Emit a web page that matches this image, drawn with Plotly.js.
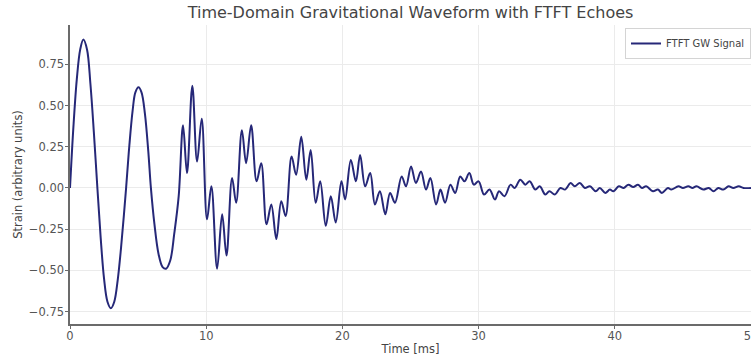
<!DOCTYPE html>
<html>
<head>
<meta charset="utf-8">
<script src="https://cdn.plot.ly/plotly-3.0.1.min.js"></script>
<style>
  html, body { margin: 0; padding: 0; background: #fff; }
  #chart { width: 751px; height: 358px; }
</style>
</head>
<body>
<div id="chart"></div>
<script>
// Time samples (ms)
const timeMs = [
  0.00, 0.25, 0.50, 0.75, 0.98, 1.25, 1.50, 1.75, 2.01,
  2.25, 2.50, 2.75, 3.00, 3.25, 3.50, 3.75, 4.12,
  4.35, 4.60, 4.80, 5.03, 5.25, 5.50, 5.75, 5.94,
  6.20, 6.50, 6.80, 7.05, 7.36, 7.65, 7.98,
  8.30, 8.59, 8.98, 9.33, 9.67, 10.06, 10.38, 10.80, 11.17, 11.49,
  11.90, 12.20, 12.62, 12.93, 13.30, 13.70, 14.04, 14.43, 14.78, 15.15,
  15.51, 15.83, 16.27, 16.60, 16.98, 17.35, 17.67, 18.04, 18.37, 18.78,
  19.15, 19.51, 19.93, 20.20, 20.62, 20.99, 21.30, 21.67, 22.04, 22.39,
  22.75, 23.15, 23.50, 23.86, 24.35, 24.67, 25.04, 25.40, 25.77, 26.14,
  26.46, 26.88, 27.20, 27.54, 27.93, 28.28, 28.65, 28.96, 29.32, 29.65,
  30.00, 30.40, 30.80, 31.20, 31.50, 31.90, 32.35, 32.65, 33.06, 33.43,
  33.75, 34.17, 34.49, 34.90, 35.20, 35.60, 36.00, 36.35, 36.75, 37.06,
  37.43, 37.80, 38.17, 38.60, 38.90, 39.30, 39.64, 39.90, 40.30, 40.65,
  41.00, 41.35, 41.70, 42.00, 42.30, 42.80, 43.16, 43.46, 43.90, 44.15,
  44.67, 45.00, 45.40, 45.70, 46.00, 46.49, 46.90, 47.25, 47.60, 47.97,
  48.35, 48.70, 49.10, 49.45, 50.00
];

// Strain values (arbitrary units)
const strain = [
  0.00, 0.37, 0.66, 0.84, 0.90, 0.84, 0.63, 0.34, 0.00,
  -0.30, -0.55, -0.69, -0.73, -0.69, -0.56, -0.36, 0.00,
  0.25, 0.47, 0.58, 0.61, 0.58, 0.45, 0.22, 0.00,
  -0.22, -0.40, -0.48, -0.49, -0.44, -0.28, -0.05,
  0.38, 0.09, 0.62, 0.16, 0.42, -0.19, 0.01, -0.49, -0.16, -0.41,
  0.06, -0.09, 0.35, 0.15, 0.38, 0.04, 0.15, -0.22, -0.10, -0.31,
  -0.08, -0.17, 0.19, 0.08, 0.31, 0.05, 0.23, -0.09, 0.04, -0.23,
  -0.05, -0.21, 0.04, -0.07, 0.17, 0.04, 0.20, 0.01, 0.09, -0.10,
  -0.02, -0.16, -0.03, -0.09, 0.07, 0.01, 0.13, 0.03, 0.10, -0.01,
  0.06, -0.10, -0.01, -0.09, 0.02, -0.03, 0.07, 0.04, 0.09, 0.02,
  0.04, -0.04, -0.01, -0.07, -0.02, -0.05, 0.02, 0.00, 0.05, 0.02,
  0.04, -0.01, 0.01, -0.04, -0.02, -0.04, 0.00, -0.01, 0.03, 0.01,
  0.03, 0.00, 0.01, -0.02, 0.00, -0.03, -0.01, -0.02, 0.01, 0.00,
  0.02, 0.005, 0.02, 0.00, 0.01, -0.02, -0.01, -0.03, 0.00, -0.01,
  0.01, 0.00, 0.01, 0.00, 0.01, -0.01, 0.00, -0.02, 0.00, -0.01,
  0.01, 0.00, 0.01, 0.00, 0.00
];

const xTickVals = [0, 10, 20, 30, 40, 50];
const xTickText = ["0", "10", "20", "30", "40", "50"];
const yTickVals = [-0.75, -0.5, -0.25, 0, 0.25, 0.5, 0.75];
const yTickText = ["\u22120.75", "\u22120.50", "\u22120.25", "0.00", "0.25", "0.50", "0.75"];

const trace = {
  x: timeMs,
  y: strain,
  type: "scatter",
  mode: "lines",
  name: "FTFT GW Signal",
  line: { color: "#262878", width: 2, shape: "spline", smoothing: 1 }
};

const font = "DejaVu Sans, Liberation Sans, sans-serif";

const layout = {
  width: 751,
  height: 358,
  margin: { l: 70, r: 0, t: 25, b: 34, pad: 0 },
  paper_bgcolor: "#ffffff",
  plot_bgcolor: "#ffffff",
  font: { family: font, color: "#555" },
  title: {
    text: "Time-Domain Gravitational Waveform with FTFT Echoes",
    font: { family: font, size: 16, color: "#444" },
    xref: "paper", x: 0.5, xanchor: "center",
    yref: "container", y: 0.966, yanchor: "middle"
  },
  showlegend: true,
  legend: {
    x: 1, xanchor: "right", y: 0.99, yanchor: "top",
    bgcolor: "#ffffff", bordercolor: "#d4d4d4", borderwidth: 1,
    itemwidth: 30,
    font: { family: font, size: 10, color: "#444" }
  },
  xaxis: {
    range: [0, 50],
    tickvals: xTickVals,
    ticktext: xTickText,
    ticklabeloverflow: "allow",
    showline: true, linecolor: "#6b6b6b", linewidth: 1.6,
    ticks: "outside", ticklen: 3, tickcolor: "#6b6b6b", tickwidth: 1,
    ticklabelstandoff: -2,
    showgrid: true, gridcolor: "#ebebeb", gridwidth: 1,
    zeroline: false,
    tickfont: { family: font, size: 11.5, color: "#555" },
    title: { text: "Time [ms]", font: { family: font, size: 11.5, color: "#444" }, standoff: 2 }
  },
  yaxis: {
    range: [-0.825, 0.988],
    tickvals: yTickVals,
    ticktext: yTickText,
    showline: true, linecolor: "#6b6b6b", linewidth: 1.6,
    ticks: "outside", ticklen: 3, tickcolor: "#6b6b6b", tickwidth: 1,
    ticklabelstandoff: -1,
    showgrid: true, gridcolor: "#ebebeb", gridwidth: 1,
    zeroline: false,
    tickfont: { family: font, size: 11.5, color: "#555" },
    title: { text: "Strain (arbitrary units)", font: { family: font, size: 11.5, color: "#444" }, standoff: 4 }
  }
};

Plotly.newPlot("chart", [trace], layout, { displayModeBar: false, staticPlot: true });
</script>
</body>
</html>
